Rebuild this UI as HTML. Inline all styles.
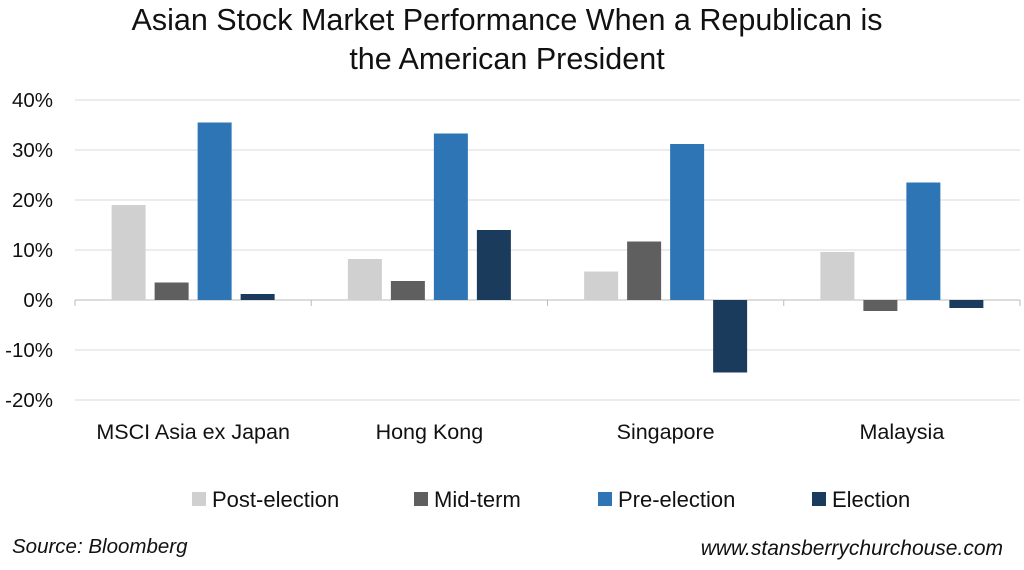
<!DOCTYPE html>
<html><head><meta charset="utf-8"><style>
body{margin:0;background:#fff;width:1024px;height:565px;overflow:hidden;font-family:"Liberation Sans",sans-serif}
</style></head><body>
<svg width="1024" height="565" xmlns="http://www.w3.org/2000/svg">
<text x="507" y="30" text-anchor="middle" font-size="30.5" fill="#111">Asian Stock Market Performance When a Republican is</text>
<text x="507" y="69" text-anchor="middle" font-size="30.5" fill="#111">the American President</text>
<g id="grid"></g><g id="bars"></g><g id="xlab"></g><g id="legend"></g>
<text x="12" y="553" font-size="20.5" font-style="italic" fill="#111">Source: Bloomberg</text>
<text x="1003" y="555" text-anchor="end" font-size="21" font-style="italic" fill="#111">www.stansberrychurchouse.com</text>
</svg>
<script>
const categories=["MSCI Asia ex Japan","Hong Kong","Singapore","Malaysia"];
const seriesNames=["Post-election","Mid-term","Pre-election","Election"];
const s0=[19,8.2,5.7,9.6];
const s1=[3.5,3.8,11.7,-2.2];
const s2=[35.5,33.3,31.2,23.5];
const s3=[1.2,14,-14.5,-1.6];
const series=[s0,s1,s2,s3];
const colors=["#d0d0d0","#5f5f5f","#2e75b6","#1b3b5d"];
const ticks=[40,30,20,10,0,-10,-20];
const NS="http://www.w3.org/2000/svg";
const x0=75,x1=1020,gw=(x1-x0)/4;
const y=v=>300-v*5;
function mk(t,a,p){const e=document.createElementNS(NS,t);for(const k in a)e.setAttribute(k,a[k]);p.appendChild(e);return e;}
const g=document.getElementById('grid');
ticks.forEach(t=>{
 const l=mk('line',{x1:x0,x2:x1,y1:y(t),y2:y(t),stroke:t===0?'#bbb':'#d9d9d9','stroke-width':1},g);
 
 
 const tx=mk('text',{x:53,y:y(t)+7,'text-anchor':'end','font-size':20.5,fill:'#111'},g);
 tx.textContent=t+'%';
 
 
});
for(let i=0;i<=4;i++){const l=mk('line',{x1:x0+i*gw,x2:x0+i*gw,y1:300,y2:306,stroke:'#bbb'},g);
 
 }
const b=document.getElementById('bars'),xl=document.getElementById('xlab');
const bw=34,step=43;
categories.forEach((c,i)=>{
 const cx=x0+gw*(i+0.5);
 series.forEach((s,j)=>{
  const v=s[i],bx=cx-2*step+j*step+(step-bw)/2;
  const r=mk('rect',{x:bx,y:Math.min(y(v),y(0)),width:bw,height:Math.abs(y(v)-y(0)),fill:colors[j]},b);
  
  
 });
 const t=mk('text',{x:cx,y:439,'text-anchor':'middle','font-size':21.5,fill:'#111'},xl);
 t.textContent=c;
 
 
});
const lg=document.getElementById('legend');
const lx=[192,414,598,812];
seriesNames.forEach((n,j)=>{
 const r=mk('rect',{x:lx[j],y:492,width:14,height:14,fill:colors[j]},lg);
 
 
 const t=mk('text',{x:lx[j]+20,y:507,'font-size':22,fill:'#111'},lg);
 t.textContent=n;
 
 
});
</script>
</body></html>
